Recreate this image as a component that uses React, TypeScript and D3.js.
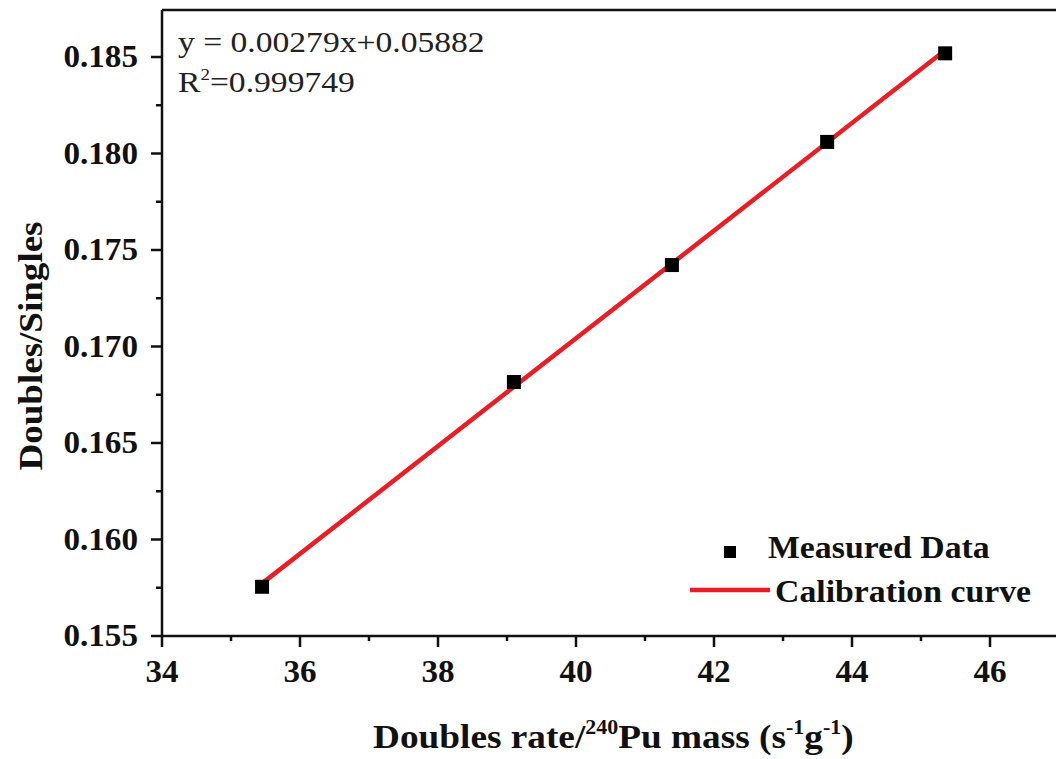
import React from "react";
import * as d3 from "d3";

const xValues = [35.45, 39.1, 41.39, 43.64, 45.35];
const yValues = [0.15755, 0.16816, 0.17422, 0.1806, 0.18519];
const slope = 0.00279;
const intercept = 0.05882;
const xTicks = [34, 36, 38, 40, 42, 44, 46];
const xMinorTicks = [35, 37, 39, 41, 43, 45];
const yTicks = [0.155, 0.16, 0.165, 0.17, 0.175, 0.18, 0.185];
const yMinorTicks = [0.1575, 0.1625, 0.1675, 0.1725, 0.1775, 0.1825];
const equationText = "y = 0.00279x+0.05882";
const r2Text = "=0.999749";
const legendLabels = ["Measured Data", "Calibration curve"];

const W = 1056;
const H = 759;
const left = 162;
const right = 1070;
const top = 10;
const bottom = 636;

const serif = "'Liberation Serif', 'Times New Roman', serif";

function T(props: {
  x: number;
  y: number;
  sx?: number;
  rot?: number;
  anchor?: "start" | "middle" | "end";
  size: number;
  bold?: boolean;
  fill?: string;
  children: React.ReactNode;
}) {
  const { x, y, sx = 1, rot = 0, anchor = "start", size, bold = false, fill = "#111", children } = props;
  return (
    <g transform={`translate(${x},${y}) rotate(${rot}) scale(${sx},1)`}>
      <text x={0} y={0} textAnchor={anchor} fontSize={size} fontWeight={bold ? "bold" : "normal"} fill={fill}>
        {children}
      </text>
    </g>
  );
}

export default function App() {
  const x = d3.scaleLinear().domain([34, 34 + (right - left) / 69]).range([left, right]);
  const y = d3.scaleLinear().domain([0.155, 0.155 + ((bottom - top) / 96.5) * 0.005]).range([bottom, top]);
  const fitX = [xValues[0], xValues[xValues.length - 1]];
  const line = d3
    .line<number>()
    .x((d) => x(d))
    .y((d) => y(slope * d + intercept));
  const red = "#ec1c24";
  const axisW = 2.5;
  const sq = 14;

  return (
    <svg width={W} height={H} style={{ position: "absolute", left: 0, top: 0, background: "#fff" }} fontFamily={serif}>
      {/* frame */}
      <line x1={left} x2={W} y1={top} y2={top} stroke="#111" strokeWidth={axisW} />
      <line x1={left} x2={left} y1={top} y2={bottom + 1} stroke="#111" strokeWidth={axisW} />
      <line x1={left - 1} x2={W} y1={bottom} y2={bottom} stroke="#111" strokeWidth={axisW} />
      {/* x ticks */}
      {xTicks.map((t) => (
        <g key={"xt" + t}>
          <line x1={x(t)} x2={x(t)} y1={bottom} y2={bottom + 11} stroke="#111" strokeWidth={2.5} />
          <T x={x(t)} y={682} anchor="middle" size={31} sx={1.07} bold>
            {t}
          </T>
        </g>
      ))}
      {xMinorTicks.map((t) => (
        <line key={"xm" + t} x1={x(t)} x2={x(t)} y1={bottom} y2={bottom + 5} stroke="#111" strokeWidth={2.5} />
      ))}
      {/* y ticks */}
      {yTicks.map((t) => (
        <g key={"yt" + t}>
          <line x1={left - 11} x2={left} y1={y(t)} y2={y(t)} stroke="#111" strokeWidth={2.5} />
          <T x={138} y={y(t) + 10} anchor="end" size={31} sx={1.07} bold>
            {d3.format(".3f")(t)}
          </T>
        </g>
      ))}
      {yMinorTicks.map((t) => (
        <line key={"ym" + t} x1={left - 6} x2={left} y1={y(t)} y2={y(t)} stroke="#111" strokeWidth={2.5} />
      ))}
      {/* fit line */}
      <path d={line(fitX) || ""} stroke={red} strokeWidth={4.5} fill="none" />
      {/* points */}
      {xValues.map((v, i) => (
        <rect key={"p" + i} x={x(v) - sq / 2} y={y(yValues[i]) - sq / 2} width={sq} height={sq} fill="#000" />
      ))}
      {/* equation */}
      <T x={178} y={52} size={30} sx={1.12} fill="#222">
        {equationText}
      </T>
      <T x={178} y={92} size={30} sx={1.12} fill="#222">
        R<tspan dy={-12} fontSize={17}>2</tspan>
        <tspan dy={12}>{r2Text}</tspan>
      </T>
      {/* legend */}
      <rect x={730 - 6} y={552 - 6} width={12} height={12} fill="#000" />
      <T x={768} y={558} size={31} sx={1.09} bold>
        {legendLabels[0]}
      </T>
      <line x1={690} x2={770} y1={590} y2={590} stroke={red} strokeWidth={4.5} />
      <T x={775} y={602} size={31} sx={1.09} bold>
        {legendLabels[1]}
      </T>
      {/* axis titles */}
      <T x={373} y={748} size={34} sx={1.097} bold>
        Doubles rate/
        <tspan dy={-14} fontSize={20}>240</tspan>
        <tspan dy={14}>Pu mass (s</tspan>
        <tspan dy={-14} fontSize={20}>-1</tspan>
        <tspan dy={14}>g</tspan>
        <tspan dy={-14} fontSize={20}>-1</tspan>
        <tspan dy={14}>)</tspan>
      </T>
      <T x={42} y={346} rot={-90} anchor="middle" size={34} sx={1.09} bold>
        Doubles/Singles
      </T>
    </svg>
  );
}
